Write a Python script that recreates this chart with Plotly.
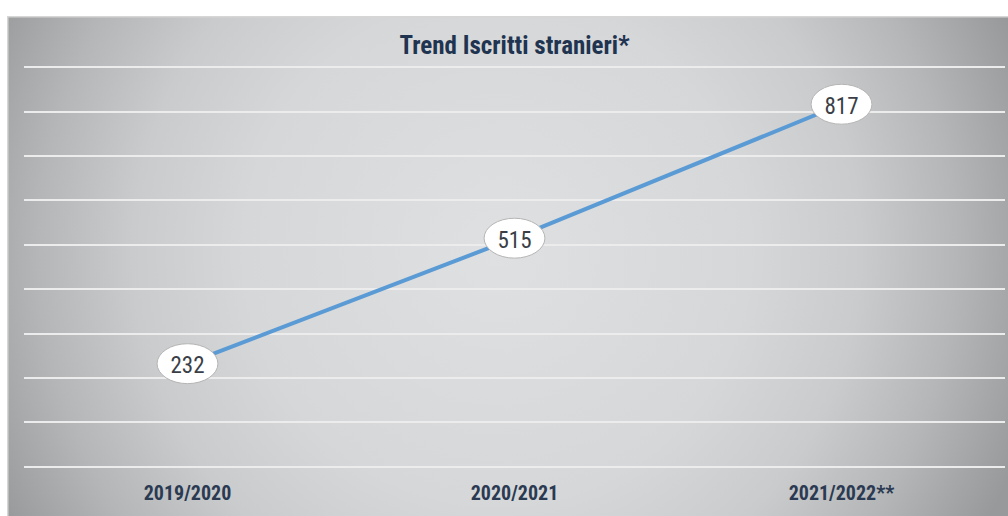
import base64
import plotly.graph_objects as go

# ── Data ───────────────────────────────────────────────────────────────────────
anni     = ['2019/2020', '2020/2021', '2021/2022**']
iscritti = [232, 515, 817]
y_ticks  = list(range(0, 1000, 100))

TITLE     = 'Trend Iscritti stranieri*'
NARROW    = 'Roboto Condensed, DejaVu Sans Condensed, sans-serif'
NAVY      = '#1f3450'
LINE_BLUE = '#5b9bd5'

# ── Layout geometry (pixels) ───────────────────────────────────────────────────
W, H = 1008, 516
M = dict(l=24, r=3, t=63, b=45)
pw, ph = W - M['l'] - M['r'], H - M['t'] - M['b']

# gray radial background panel as an inline svg
svg = '''<svg xmlns="http://www.w3.org/2000/svg" width="1001" height="500" viewBox="0 0 1001 500">
<defs><radialGradient id="g" gradientUnits="userSpaceOnUse" cx="490" cy="235" r="560">
<stop offset="0" stop-color="#dfe0e1"/><stop offset="0.45" stop-color="#d6d7d8"/>
<stop offset="0.65" stop-color="#cacbcc"/><stop offset="0.82" stop-color="#b5b6b7"/>
<stop offset="0.92" stop-color="#a5a6a7"/><stop offset="1" stop-color="#98999a"/>
</radialGradient></defs>
<rect width="1001" height="500" fill="url(#g)"/>
<path d="M0.75 500 V0.75 H1001" stroke="#d6d6d6" stroke-width="1.5" fill="none"/>
</svg>'''
bg_src = 'data:image/svg+xml;base64,' + base64.b64encode(svg.encode()).decode()

fig = go.Figure()
fig.add_trace(go.Scatter(
    x=anni, y=iscritti,
    mode='lines',
    line=dict(color=LINE_BLUE, width=4),
    hoverinfo='skip'
))

# white ellipse labels around each point
for i, v in enumerate(iscritti):
    fig.add_shape(
        type='circle', xref='x', yref='y',
        x0=i - 0.093, x1=i + 0.093, y0=v - 45, y1=v + 45,
        fillcolor='white', line=dict(color='#b5b5b5', width=1),
        layer='above',
        label=dict(text=str(v), font=dict(family=NARROW, size=23, color='#3a3f47'))
    )

fig.add_layout_image(
    source=bg_src, xref='paper', yref='paper',
    x=(7 - M['l']) / pw, y=(H - M['b'] - 16) / ph,
    sizex=(W - 7) / pw, sizey=(H - 16) / ph,
    xanchor='left', yanchor='top', sizing='stretch', layer='below'
)

fig.update_layout(
    width=W, height=H,
    margin=M,
    paper_bgcolor='white',
    plot_bgcolor='rgba(0,0,0,0)',
    showlegend=False,
    title=dict(
        text=TITLE, xref='paper', x=0.5, xanchor='center', y=1 - 45 / H, yanchor='middle',
        font=dict(family=NARROW, size=25, color=NAVY, weight='bold')
    ),
    xaxis=dict(
        type='category', range=[-0.5, 2.5],
        showgrid=False, zeroline=False, showline=False, ticks='',
        tickfont=dict(family=NARROW, size=20, color='#2a3a52', weight='bold'),
        ticklabelstandoff=8
    ),
    yaxis=dict(
        range=[-10, 910], tickvals=y_ticks, showticklabels=False,
        showgrid=True, gridcolor='#ececec', gridwidth=2,
        zeroline=False, showline=False, fixedrange=True
    )
)

fig.write_html('out.html', config={'displayModeBar': False},
               post_script="document.body.style.margin='0';")
